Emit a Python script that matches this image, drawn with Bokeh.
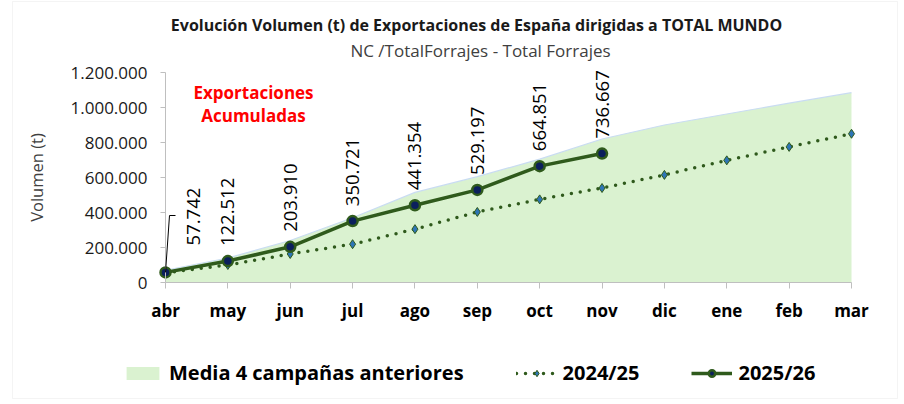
import numpy as np
from bokeh.plotting import figure
from bokeh.models import (Range1d, FixedTicker, ColumnDataSource, LabelSet, Label,
                          Legend, LegendItem, Arrow, BoxAnnotation)
from bokeh.core.properties import value
from bokeh.embed import file_html
from bokeh.resources import INLINE

# ---------------- data ----------------
months = ["abr", "may", "jun", "jul", "ago", "sep", "oct", "nov", "dic", "ene", "feb", "mar"]
media_4_campanas = [70000, 140000, 240000, 370000, 515000, 605000, 705000, 820000,
                    900000, 963000, 1025000, 1085000]
serie_2024_25 = [55000, 100000, 163000, 219000, 305000, 403000, 475000, 540000,
                 615000, 698000, 775000, 850000]
serie_2025_26 = [57742, 122512, 203910, 350721, 441354, 529197, 664851, 736667]
y_ticks = [0, 200000, 400000, 600000, 800000, 1000000, 1200000]
y_tick_labels = ["0", "200.000", "400.000", "600.000", "800.000", "1.000.000", "1.200.000"]
legend_labels = ["Media 4 campañas anteriores", "2024/25", "2025/26"]

title_text = "Evolución Volumen (t) de Exportaciones de España dirigidas a TOTAL MUNDO"
subtitle_text = "NC /TotalForrajes - Total Forrajes"
note_lines = ["Exportaciones", "Acumuladas"]

FONT = "Open Sans"
DARK_GREEN = "#2f5a1c"
AREA_FILL = "#daf2d0"
AREA_EDGE = "#c9dcf2"
DIAMOND_FILL = "#2e75b6"
CIRCLE_FILL = "#0b1f5c"

# ---------------- page geometry (pixels) ----------------
VIEW_W, VIEW_H = 898, 404          # visible frame area
HIDDEN_L, HIDDEN_B = 160, 50       # axis side panels pushed out of view
X0_PX, X11_PX = 165, 851           # abr / mar positions
Y0_PX, YTOP_PX = 282, 72           # 0 / 1.200.000 positions
Y_MAX_AXIS = 1200000
n = len(months) - 1
px_x = n / (X11_PX - X0_PX)
px_y = Y_MAX_AXIS / (Y0_PX - YTOP_PX)


def fmt(v):
    return f"{v:,}".replace(",", ".")


x_all = list(range(len(months)))
x_25 = list(range(len(serie_2025_26)))

src_media = ColumnDataSource(dict(x=x_all, y=media_4_campanas))
src_24 = ColumnDataSource(dict(x=x_all, y=serie_2024_25))
src_25 = ColumnDataSource(dict(x=x_25, y=serie_2025_26))
src_lab = ColumnDataSource(dict(x=x_25[1:], y=serie_2025_26[1:],
                                t=[fmt(v) for v in serie_2025_26[1:]]))

p = figure(width=VIEW_W + HIDDEN_L, height=VIEW_H + HIDDEN_B,
           x_range=Range1d(-X0_PX * px_x, n + (VIEW_W - X11_PX) * px_x),
           y_range=Range1d(-(VIEW_H - Y0_PX) * px_y, Y0_PX * px_y),
           output_backend="svg", toolbar_location=None,
           min_border_left=HIDDEN_L, min_border_right=0,
           min_border_top=0, min_border_bottom=HIDDEN_B)
p.styles = {"margin-left": f"-{HIDDEN_L}px"}
p.xgrid.visible = False
p.ygrid.visible = False
p.outline_line_color = None
p.background_fill_color = "white"
p.border_fill_color = "white"

# x axis (drawn at y = 0)
xa = p.xaxis[0]
xa.fixed_location = 0
xa.bounds = (0, n)
xa.ticker = FixedTicker(ticks=x_all)
xa.major_label_overrides = {i: m for i, m in enumerate(months)}
xa.axis_line_color = "#bfbfbf"
xa.major_tick_line_color = "#bfbfbf"
xa.major_tick_out = 6
xa.major_tick_in = 0
xa.minor_tick_line_color = None
xa.major_label_text_font = FONT
xa.major_label_text_font_style = "bold"
xa.major_label_text_font_size = "17px"
xa.major_label_text_color = "#000000"
xa.major_label_standoff = 10

# y axis (drawn at x = 0)
ya = p.yaxis[0]
ya.fixed_location = 0
ya.bounds = (0, Y_MAX_AXIS)
ya.ticker = FixedTicker(ticks=y_ticks)
ya.major_label_overrides = {t: l for t, l in zip(y_ticks, y_tick_labels)}
ya.axis_line_color = "#bfbfbf"
ya.major_tick_line_color = "#bfbfbf"
ya.major_tick_out = 5
ya.major_tick_in = 0
ya.minor_tick_line_color = None
ya.major_label_text_font = FONT
ya.major_label_text_font_size = "17px"
ya.major_label_text_color = "#1a1a1a"
ya.major_label_standoff = 13
ya.axis_label = "Volumen (t)"
ya.axis_label_text_font = FONT
ya.axis_label_text_font_style = "normal"
ya.axis_label_text_font_size = "16.5px"
ya.axis_label_text_color = "#404040"
ya.axis_label_standoff = 20

# ---------------- series ----------------
r_area = p.varea(x="x", y1=0, y2="y", source=src_media, fill_color=AREA_FILL)
p.line(x="x", y="y", source=src_media, line_color=AREA_EDGE, line_width=1.2)

r_l24 = p.line(x="x", y="y", source=src_24, line_color=DARK_GREEN, line_width=3.5,
               line_dash="0 9", line_cap="round")
r_m24 = p.scatter(x="x", y="y", source=src_24, marker="diamond", size=9,
                  fill_color=DIAMOND_FILL, line_color=DARK_GREEN, line_width=1)

r_l25 = p.line(x="x", y="y", source=src_25, line_color=DARK_GREEN, line_width=3.5)
r_m25 = p.scatter(x="x", y="y", source=src_25, marker="circle", size=10,
                  fill_color=CIRCLE_FILL, line_color=DARK_GREEN, line_width=2.5)

# data labels
p.add_layout(LabelSet(x="x", y="y", text="t", source=src_lab, angle=np.pi / 2,
                      text_align="left", text_baseline="middle", y_offset=15,
                      text_font=value(FONT), text_font_size="18.5px", text_color="#000000"))
p.add_layout(Label(x=x_25[0], y=serie_2025_26[0], x_offset=28, y_offset=27, angle=np.pi / 2,
                   text=fmt(serie_2025_26[0]), text_align="left", text_baseline="middle",
                   text_font=FONT, text_font_size="18.5px", text_color="#000000"))
# leader line for the first label
p.add_layout(Arrow(end=None, x_start=x_25[0], y_start=serie_2025_26[0], start_units="data",
                   x_end=X0_PX + 4, y_end=VIEW_H - 215, end_units="screen",
                   line_color="black", line_width=1))
p.add_layout(Arrow(end=None, x_start=X0_PX + 4, y_start=VIEW_H - 215, start_units="screen",
                   x_end=X0_PX + 10, y_end=VIEW_H - 215, end_units="screen",
                   line_color="black", line_width=1))

# titles and note (screen px, measured from the frame's bottom-left)
p.add_layout(Label(x=476, y=VIEW_H - 24, x_units="screen", y_units="screen",
                   text=title_text, text_align="center", text_baseline="middle",
                   text_font=FONT, text_font_style="bold", text_font_size="16px",
                   text_color="#1a1a1a"))
p.add_layout(Label(x=480, y=VIEW_H - 50, x_units="screen", y_units="screen",
                   text=subtitle_text, text_align="center", text_baseline="middle",
                   text_font=FONT, text_font_size="17px", text_color="#404040"))
for line_text, ypx in zip(note_lines, [92, 115]):
    p.add_layout(Label(x=253, y=VIEW_H - ypx, x_units="screen", y_units="screen",
                       text=line_text, text_align="center", text_baseline="middle",
                       text_font=FONT, text_font_style="bold", text_font_size="17px",
                       text_color="#ff0000"))

# chart border
p.add_layout(BoxAnnotation(left=12, right=897, bottom=VIEW_H - 398, top=VIEW_H - 1,
                           left_units="screen", right_units="screen",
                           bottom_units="screen", top_units="screen",
                           fill_alpha=0, line_color="#d9d9d9", line_width=1))

# legend
legend = Legend(items=[LegendItem(label=legend_labels[0], renderers=[r_area]),
                       LegendItem(label=legend_labels[1], renderers=[r_l24, r_m24]),
                       LegendItem(label=legend_labels[2], renderers=[r_l25, r_m25])],
                orientation="horizontal", location=(122, 18),
                label_text_font=FONT, label_text_font_style="bold",
                label_text_font_size="20px", label_text_color="#000000",
                glyph_width=41, glyph_height=16, label_standoff=6, spacing=52,
                padding=0, margin=0, border_line_color=None, background_fill_alpha=0)
p.add_layout(legend)

open("out.html", "w").write(file_html(p, INLINE))
